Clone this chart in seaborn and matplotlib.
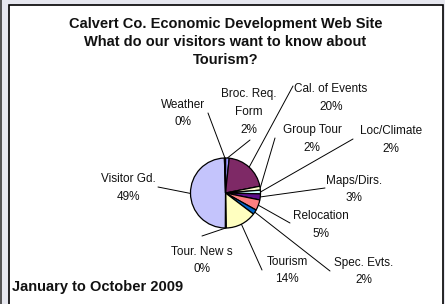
import numpy as np
import matplotlib
matplotlib.use("Agg")
import matplotlib.pyplot as plt
import matplotlib.patches as mpatches
import seaborn as sns

# data (clockwise from 12 o'clock)
categories = ["Broc. Req.\nForm", "Cal. of Events", "Group Tour", "Loc/Climate",
              "Maps/Dirs.", "Relocation", "Spec. Evts.", "Tourism",
              "Tour. New s", "Visitor Gd.", "Weather"]
shares = [1.7, 20.2, 1.8, 1.7, 2.8, 4.9, 2.2, 14.4, 0.4, 49.4, 0.5]
slice_colors = ["#9999FF", "#7E2966", "#FFFFCC", "#CCFFFF", "#5C0F8B", "#FF8080",
                "#0066CC", "#FFFFC0", "#000080", "#C4C4FC", "#000080"]

# label layout (image pixels): text centre, leader end
label_pos = [(249, 112), (331, 98), (312, 139), (391, 140), (354, 189.5),
             (321, 225), (364, 271.5), (287, 270.5), (202, 260.5), (128, 188), (183, 113.5)]
leader_end = [(250, 140), (293, 86), (275, 138), (353, 139), (325, 188),
              (290, 223), (330, 271), (262, 270), (202, 236), (158, 187), (208, 113)]

W, H = 445, 304
CX, CY, R = 225.5, 193, 35

sns.set_theme(style="white")
plt.rcParams["font.family"] = ["Liberation Sans", "DejaVu Sans"]

def iy(y):
    # image y (down) -> axes y (up)
    return H - y

fig = plt.figure(figsize=(W / 100, H / 100), dpi=100, facecolor="#e6e7ef")
ax = fig.add_axes([0, 0, 1, 1])

palette = sns.color_palette(slice_colors)
wedges, _ = ax.pie(shares, colors=palette, startangle=90, counterclock=False,
                   center=(CX, iy(CY)), radius=R,
                   wedgeprops=dict(edgecolor="black", linewidth=0.9))
for w in wedges:
    w.set_zorder(3)

ax.set_xlim(0, W)
ax.set_ylim(0, H)
ax.set_aspect("equal")
ax.axis("off")

# panel background
ax.add_patch(mpatches.Rectangle((8.5, -5), 434, H - 4.5 + 5, facecolor="white",
                                edgecolor="black", linewidth=1.2, zorder=0))
ax.add_patch(mpatches.Rectangle((0, 0), 1.5, H, facecolor="#555555",
                                edgecolor="none", zorder=0))

total = sum(shares)
for w, name, v, (tx, ty), (ex, ey) in zip(wedges, categories, shares, label_pos, leader_end):
    mid = np.deg2rad((w.theta1 + w.theta2) / 2)
    sx = CX + R * np.cos(mid)
    sy = iy(CY) + R * np.sin(mid)
    ax.plot([sx, ex], [sy, iy(ey)], color="black", lw=0.7, zorder=2)
    ax.text(tx, iy(ty), f"{name}\n{round(v / total * 100)}%", ha="center", va="center",
            fontsize=8.5, color="#111111", linespacing=1.65, zorder=4)

ax.text(225.5, iy(42), "Calvert Co. Economic Development Web Site\n"
        "What do our visitors want to know about\nTourism?",
        ha="center", va="center", fontsize=10.5, fontweight="bold",
        linespacing=1.4, color="#111111")
ax.text(12, iy(287), "January to October 2009", ha="left", va="center",
        fontsize=10.5, fontweight="bold", color="#111111")

fig.savefig("out.png", dpi=100, facecolor=fig.get_facecolor())
